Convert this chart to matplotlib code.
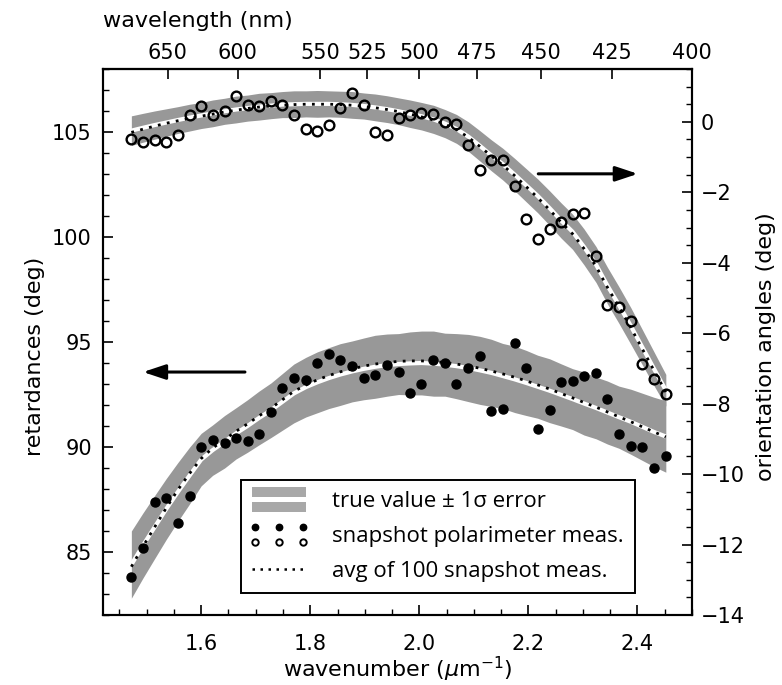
import numpy as np
import matplotlib
matplotlib.use("Agg")
import matplotlib.pyplot as plt
from matplotlib.legend_handler import HandlerBase
from matplotlib.patches import Rectangle
from matplotlib.lines import Line2D
from matplotlib.ticker import MultipleLocator, NullLocator
from matplotlib.font_manager import FontProperties

# ---------------- data ----------------
wavenumber = [1.472, 1.493, 1.515, 1.536, 1.557, 1.579, 1.600, 1.621, 1.643, 1.664,
              1.685, 1.706, 1.728, 1.749, 1.770, 1.792, 1.813, 1.834, 1.855, 1.877,
              1.898, 1.919, 1.941, 1.962, 1.983, 2.004, 2.026, 2.047, 2.068, 2.090,
              2.111, 2.132, 2.153, 2.175, 2.196, 2.217, 2.239, 2.260, 2.281, 2.302,
              2.324, 2.345, 2.366, 2.388, 2.409, 2.430, 2.452]

# retardance (left axis)
ret_true = [84.40, 85.30, 86.20, 87.05, 87.85, 88.65, 89.40, 89.85, 90.25, 90.65,
            91.00, 91.38, 91.75, 92.15, 92.55, 92.85, 93.08, 93.28, 93.45, 93.60,
            93.72, 93.82, 93.90, 93.95, 93.98, 94.00, 93.97, 93.92, 93.85, 93.76,
            93.65, 93.53, 93.38, 93.22, 93.05, 92.87, 92.68, 92.48, 92.28, 92.07,
            91.86, 91.64, 91.42, 91.20, 90.96, 90.72, 90.50]
ret_sigma = [1.60, 1.55, 1.50, 1.45, 1.40, 1.35, 1.25, 1.20, 1.25, 1.22,
             1.25, 1.28, 1.30, 1.35, 1.40, 1.42, 1.45, 1.45, 1.47, 1.45,
             1.47, 1.50, 1.48, 1.45, 1.50, 1.52, 1.55, 1.50, 1.55, 1.60,
             1.62, 1.60, 1.55, 1.58, 1.55, 1.50, 1.52, 1.48, 1.45, 1.50,
             1.47, 1.50, 1.48, 1.55, 1.60, 1.65, 1.70]
ret_avg = [84.30, 85.25, 86.20, 87.10, 87.95, 88.75, 89.45, 89.95, 90.35, 90.75,
           91.10, 91.48, 91.85, 92.25, 92.65, 92.95, 93.20, 93.40, 93.58, 93.72,
           93.85, 93.95, 94.02, 94.08, 94.10, 94.10, 94.07, 94.02, 93.95, 93.86,
           93.75, 93.62, 93.48, 93.32, 93.15, 92.96, 92.76, 92.55, 92.34, 92.12,
           91.90, 91.67, 91.44, 91.20, 90.96, 90.72, 90.48]
ret_meas = [83.82, 85.19, 87.38, 87.58, 86.38, 87.66, 89.99, 90.33, 90.19, 90.44,
            90.29, 90.62, 91.68, 92.79, 93.29, 93.20, 93.99, 94.42, 94.16, 93.85,
            93.29, 93.42, 93.91, 93.58, 92.57, 92.99, 94.15, 93.99, 92.99, 93.74,
            94.31, 91.73, 91.81, 94.97, 93.78, 90.86, 91.77, 93.10, 93.15, 93.36,
            93.51, 92.28, 90.60, 90.04, 89.99, 88.99, 89.59]

# orientation angle (right axis)
ori_true = [-0.25, -0.17, -0.09, -0.02, 0.05, 0.12, 0.18, 0.24, 0.30, 0.35,
            0.39, 0.43, 0.46, 0.49, 0.50, 0.51, 0.51, 0.51, 0.50, 0.48,
            0.45, 0.41, 0.36, 0.30, 0.23, 0.16, 0.07, -0.05, -0.20, -0.42,
            -0.68, -0.95, -1.20, -1.50, -1.80, -2.10, -2.45, -2.80, -3.12, -3.55,
            -4.05, -4.65, -5.20, -5.80, -6.40, -7.00, -7.62]
ori_sigma = [0.42, 0.41, 0.40, 0.39, 0.38, 0.38, 0.37, 0.38, 0.37, 0.38,
             0.37, 0.38, 0.37, 0.37, 0.38, 0.37, 0.38, 0.37, 0.37, 0.38,
             0.37, 0.38, 0.38, 0.38, 0.39, 0.39, 0.40, 0.40, 0.41, 0.42,
             0.43, 0.44, 0.45, 0.46, 0.47, 0.48, 0.49, 0.50, 0.50, 0.51,
             0.51, 0.52, 0.52, 0.52, 0.50, 0.48, 0.45]
ori_avg = [-0.30, -0.21, -0.12, -0.04, 0.03, 0.10, 0.16, 0.22, 0.28, 0.33,
           0.38, 0.42, 0.45, 0.47, 0.49, 0.50, 0.50, 0.50, 0.49, 0.47,
           0.44, 0.40, 0.35, 0.29, 0.22, 0.14, 0.05, -0.07, -0.22, -0.44,
           -0.70, -0.97, -1.23, -1.53, -1.84, -2.15, -2.50, -2.85, -3.18, -3.60,
           -4.10, -4.70, -5.25, -5.85, -6.45, -7.05, -7.67]
ori_meas = [-0.50, -0.57, -0.52, -0.58, -0.36, 0.19, 0.46, 0.18, 0.31, 0.73,
            0.47, 0.45, 0.60, 0.47, 0.19, -0.19, -0.26, -0.09, 0.38, 0.81,
            0.47, -0.30, -0.38, 0.10, 0.19, 0.24, 0.21, 0.00, -0.05, -0.66,
            -1.37, -1.09, -1.09, -1.83, -2.77, -3.34, -3.03, -2.84, -2.63, -2.60,
            -3.82, -5.21, -5.26, -5.65, -6.88, -7.29, -7.72]

wl_ticks = [650, 600, 550, 525, 500, 475, 450, 425, 400]

legend_labels = ["true value \u00b1 1\u03c3 error",
                 "snapshot polarimeter meas.",
                 "avg of 100 snapshot meas."]

# ---------------- style ----------------
GRAY = "#989898"
LEG_GRAY = "#a8a8a8"
TICK_FS = 15
LABEL_FS = 16
plt.rcParams["font.family"] = ["DejaVu Sans"]

fig = plt.figure(figsize=(7.82, 6.85), dpi=100)
ax = fig.add_axes([103 / 782, 1 - 615 / 685, 589 / 782, 546 / 685])
ax.set_xlim(1.42, 2.50)
ax.set_ylim(82, 108)
ax2 = ax.twinx()
ax2.set_ylim(-14, 1.5)

x = np.array(wavenumber)
rt, rs = np.array(ret_true), np.array(ret_sigma)
ot, osg = np.array(ori_true), np.array(ori_sigma)

band_r = ax.fill_between(x, rt - rs, rt + rs, color=GRAY, lw=0, zorder=1)
ax.plot(x, rt, color="white", lw=3.0, zorder=2, solid_capstyle="butt")
avg_r, = ax.plot(x, ret_avg, color="black", lw=2.0, ls=(0, (1, 2.3)), zorder=3)
dots_r, = ax.plot(x, ret_meas, "o", color="black", ms=6.5, zorder=4)

ax2.fill_between(x, ot - osg, ot + osg, color=GRAY, lw=0, zorder=1)
ax2.plot(x, ot, color="white", lw=3.0, zorder=2, solid_capstyle="butt")
ax2.plot(x, ori_avg, color="black", lw=2.0, ls=(0, (1, 2.3)), zorder=3)
ax2.plot(x, ori_meas, "o", mfc="none", mec="black", mew=1.7, ms=7.0, zorder=4)

# ticks
for a in (ax, ax2):
    for s in a.spines.values():
        s.set_linewidth(1.5)
ax.xaxis.set_major_locator(MultipleLocator(0.2))
ax.xaxis.set_minor_locator(MultipleLocator(0.05))
ax.yaxis.set_major_locator(MultipleLocator(5))
ax.yaxis.set_minor_locator(MultipleLocator(1))
ax2.yaxis.set_major_locator(MultipleLocator(2))
ax2.yaxis.set_minor_locator(MultipleLocator(0.5))
for a in (ax, ax2):
    a.tick_params(which="both", direction="in", labelsize=TICK_FS)
    a.tick_params(which="major", length=7.5, width=1.2)
    a.tick_params(which="minor", length=4, width=1.0)
ax.tick_params(axis="x", pad=14)
ax.tick_params(axis="y", pad=8)
ax2.tick_params(axis="y", pad=6)


def wn2wl(v):
    v = np.asarray(v, dtype=float)
    with np.errstate(divide="ignore", invalid="ignore"):
        return 1000.0 / v


sec = ax.secondary_xaxis("top", functions=(wn2wl, wn2wl))
sec.set_xticks(wl_ticks)
sec.xaxis.set_minor_locator(NullLocator())
sec.tick_params(direction="in", length=7.5, width=1.2, labelsize=TICK_FS, pad=4)
sec.spines["top"].set_linewidth(1.5)

# axis labels
fig.text(103 / 782, 1 - 21 / 685, "wavelength (nm)", fontsize=LABEL_FS,
         ha="left", va="center")
fig.text(398 / 782, 1 - 669 / 685, "wavenumber ($\\mu$m$^{-1}$)", fontsize=LABEL_FS,
         ha="center", va="center")
fig.text(35 / 782, 1 - 356 / 685, "retardances (deg)", fontsize=LABEL_FS,
         ha="center", va="center", rotation=90)
fig.text(766 / 782, 1 - 347 / 685, "orientation angles (deg)", fontsize=LABEL_FS,
         ha="center", va="center", rotation=90)

# arrows
arrow_kw = dict(arrowstyle="-|>,head_length=0.9,head_width=0.3", lw=2.2,
                color="black", shrinkA=0, shrinkB=0, mutation_scale=15)
ax2.annotate("", xy=(0.068, 0.445), xytext=(0.241, 0.445),
             xycoords="axes fraction", textcoords="axes fraction", arrowprops=arrow_kw)
ax2.annotate("", xy=(0.908, 0.808), xytext=(0.739, 0.808),
             xycoords="axes fraction", textcoords="axes fraction", arrowprops=arrow_kw)


# legend handlers
class BandHandler(HandlerBase):
    def create_artists(self, legend, orig_handle, xdescent, ydescent,
                       width, height, fontsize, trans):
        yc = -ydescent + height / 2
        r1 = Rectangle((-xdescent, yc + 1.6), width, 7.4, fc=LEG_GRAY, ec="none",
                       transform=trans)
        r2 = Rectangle((-xdescent, yc - 9.0), width, 7.4, fc=LEG_GRAY, ec="none",
                       transform=trans)
        return [r1, r2]


class DotsHandler(HandlerBase):
    def create_artists(self, legend, orig_handle, xdescent, ydescent,
                       width, height, fontsize, trans):
        yc = -ydescent + height / 2
        xs = [-xdescent + width * f for f in (0.06, 0.5, 0.94)]
        l1 = Line2D(xs, [yc + 5.6] * 3, ls="none", marker="o", ms=4.6,
                    color="black", transform=trans)
        l2 = Line2D(xs, [yc - 5.6] * 3, ls="none", marker="o", ms=4.6,
                    mfc="none", mec="black", mew=1.4, transform=trans)
        return [l1, l2]


class DottedHandler(HandlerBase):
    def create_artists(self, legend, orig_handle, xdescent, ydescent,
                       width, height, fontsize, trans):
        yc = -ydescent + height / 2
        l = Line2D([-xdescent, -xdescent + width], [yc, yc], color="black",
                   lw=1.8, ls=(0, (1, 2.2)), transform=trans)
        return [l]


leg_font = FontProperties(family=["Open Sans", "DejaVu Sans"], size=16)
leg = ax2.legend([band_r, dots_r, avg_r], legend_labels,
                 handler_map={band_r: BandHandler(), dots_r: DotsHandler(),
                              avg_r: DottedHandler()},
                 loc="lower left", bbox_to_anchor=(0.234, 0.040),
                 borderaxespad=0, prop=leg_font, fancybox=False, framealpha=1,
                 edgecolor="black", handlelength=2.45, handletextpad=1.15,
                 labelspacing=0.62, borderpad=0.5)
leg.get_frame().set_linewidth(1.4)
leg.set_zorder(10)

fig.savefig("out.png", dpi=100)
